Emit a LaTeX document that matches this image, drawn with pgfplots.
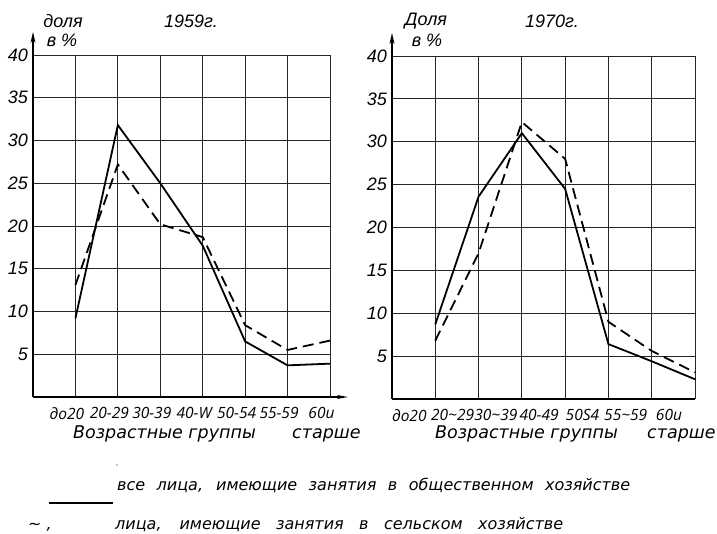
\documentclass[border=0pt]{standalone}
\usepackage{fontspec}
\setmainfont{DejaVu Sans}
\newfontfamily\gost{Liberation Sans}
\newfontfamily\gostit{Liberation Sans Italic}
\newfontfamily\osans{Open Sans}
\usepackage{pgfplots}
\usepackage{pgfplotstable}
\pgfplotsset{compat=1.18}
\usetikzlibrary{arrows.meta}

\pgfplotstableread{
x a b
1 9.2 13.1
2 31.8 27.2
3 25.0 20.2
4 17.7 18.7
5 6.5 8.4
6 3.7 5.5
7 3.9 6.6
}\tabA
\pgfplotstableread{
x a b
1 8.7 6.8
2 23.6 17.0
3 31.0 32.3
4 24.5 28.0
5 6.4 9.0
6 4.4 5.6
7 2.3 3.1
}\tabB

\pgfplotsset{myax/.style={
  scale only axis, xmin=0, xmax=7, ymin=0, ymax=40,
  axis lines=left,
  axis line style={line width=1.6pt,-},
  y axis line style={-{Stealth[length=11pt,width=5pt]}, shorten >=-23pt},
  xtick={1,...,7}, ytick={5,10,...,40},
  grid=major, major grid style={line width=0.8pt, black!85},
  major tick length=0pt,
  /pgf/number format/assume math mode=true,
  y tick label style={inner sep=0pt, xshift=-5pt},
  x tick label style={font=\osans\itshape\fontsize{15.5}{15.5}\selectfont, inner sep=0pt, yshift=-10pt},
  yticklabel={\mbox{\gostit\fontsize{18}{18}\selectfont\pgfmathparse{int(round(\tick))}\pgfmathresult}},
  clip=false,
}}

\begin{document}
\begin{tikzpicture}[x=1pt,y=1pt]
\useasboundingbox (0,0) rectangle (717,534);

\begin{axis}[myax, at={(33pt,137pt)}, anchor=south west, width=297pt, height=342pt,
  x axis line style={-{Stealth[length=11pt,width=4pt]}, shorten >=-18pt},
  xticklabels={до20,20-29,30-39,40-W,50-54,55-59,60и},
  x tick label style={anchor=north, xshift=-8.5pt}]
\addplot[line width=1.8pt, black] table[x=x,y=a]{\tabA};
\addplot[line width=1.8pt, black, dash pattern=on 11pt off 6pt] table[x=x,y=b]{\tabA};
\end{axis}

\begin{axis}[myax, at={(392pt,135pt)}, anchor=south west, width=303pt, height=343pt,
  xticklabels={до20,20\textasciitilde29,30\textasciitilde39,40-49,50S4,55\textasciitilde59,60и},
  x tick label style={anchor=north, xshift=-26pt}]
\addplot[line width=1.8pt, black] table[x=x,y=a]{\tabB};
\addplot[line width=1.8pt, black, dash pattern=on 11pt off 6pt] table[x=x,y=b]{\tabB};
\end{axis}

% titles
\begin{scope}[every node/.style={font=\gost\itshape\fontsize{18}{18}\selectfont, inner sep=0pt}]
\node at (63,513) {доля};
\node at (62,494) {в \%};
\node at (191,513) {1959г.};
\node at (426,513) {Доля};
\node at (427,494) {в \%};
\node at (552,513) {1970г.};
\end{scope}

% axis group texts
\begin{scope}[every node/.style={font=\itshape\fontsize{17.5}{17.5}\selectfont, inner sep=0pt, anchor=base west}]
\node at (73,95) {Возрастные группы};
\node at (292,95) {старше};
\node at (435,95) {Возрастные группы};
\node at (647,95) {старше};
\end{scope}

% legend
\fill (117,69) circle (0.7pt);
\draw[line width=2pt] (49,31) -- (113,31);
\begin{scope}[every node/.style={font=\itshape\fontsize{16}{16}\selectfont, inner sep=0pt, anchor=base west}]
\node at (117,43) {\makebox[513pt][s]{все лица, имеющие занятия в общественном хозяйстве}};
\node at (28,4) {\textasciitilde\ ,};
\node at (115,4) {\makebox[448pt][s]{лица, имеющие занятия в сельском хозяйстве}};
\end{scope}
\end{tikzpicture}
\end{document}
